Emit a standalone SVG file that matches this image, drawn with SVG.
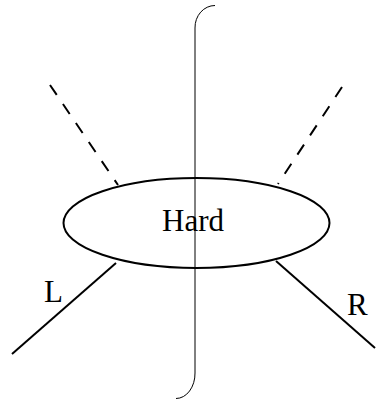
<svg xmlns="http://www.w3.org/2000/svg" width="376" height="400" viewBox="0 0 376 400">
<style>
.leg{stroke:#000;stroke-width:2;fill:none}
.dash{stroke-dasharray:12 11}
.lbl{font-family:"Liberation Serif","Times New Roman",serif;font-size:31px;fill:#000}
.cut{stroke:#000;stroke-width:1;fill:none}
</style>
<rect width="376" height="400" fill="#fff"/>
<g id="connectors">
<line class="leg dash" x1="50" y1="85" x2="118" y2="185"/>
<line class="leg dash" x1="342" y1="87" x2="278" y2="184"/>
<line class="leg" x1="116" y1="263" x2="12" y2="354"/>
<line class="leg" x1="276" y1="261" x2="375" y2="348"/>
</g>
<g id="hard">
<ellipse cx="196.5" cy="223" rx="133" ry="45" fill="none" stroke="#000" stroke-width="2"/>
<text class="lbl" x="162" y="231">Hard</text>
</g>
<g id="label-L"><text class="lbl" x="44" y="302">L</text></g>
<g id="label-R"><text class="lbl" x="347" y="315">R</text></g>
<g id="cut">
<path class="cut" d="M215,5.5 A20,22 0 0 0 195,28 L195,373 A19,25 0 0 1 176,398.5"/>
</g>
</svg>
